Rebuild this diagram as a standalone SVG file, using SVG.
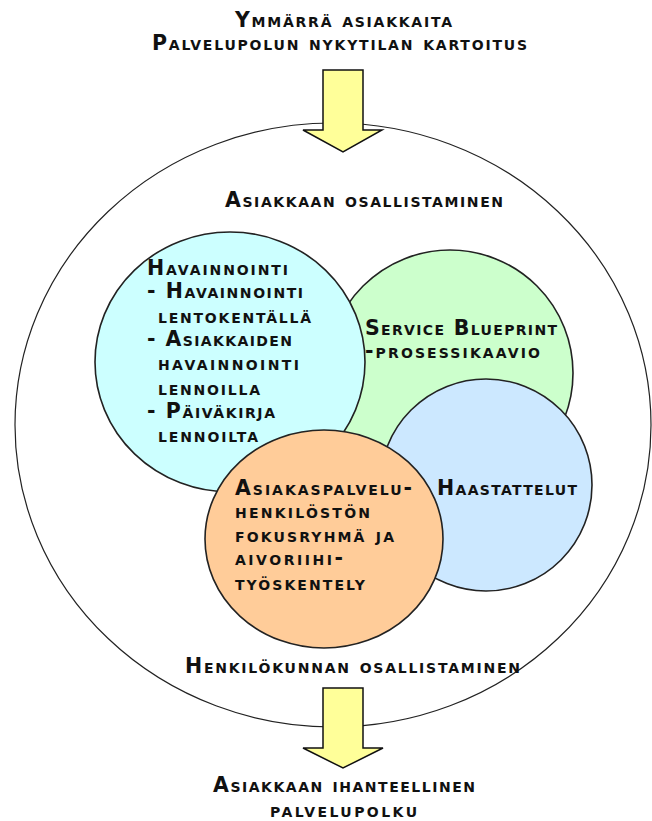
<svg xmlns="http://www.w3.org/2000/svg" width="652" height="821" viewBox="0 0 652 821">
<style>
  text { font-family: "DejaVu Sans", "Liberation Sans", sans-serif; font-weight: bold; font-size: 20.5px; font-variant: small-caps; fill: #111; }
  .bub { stroke: #222; stroke-width: 1.6; }
  .arrow { fill: #FFFF99; stroke: #111; stroke-width: 1.5; stroke-linejoin: miter; }
</style>
<rect width="652" height="821" fill="#fff"/>
<g id="outer">
  <ellipse cx="333" cy="425" rx="318" ry="302" fill="none" stroke="#222" stroke-width="1.2"/>
  <text x="225" y="207" textLength="278" lengthAdjust="spacing">Asiakkaan osallistaminen</text>
  <text x="185" y="673" textLength="335" lengthAdjust="spacing">Henkilökunnan osallistaminen</text>
</g>
<g id="top-label">
  <text x="235" y="27" textLength="217" lengthAdjust="spacing">Ymmärrä asiakkaita</text>
  <text x="152" y="50" textLength="375" lengthAdjust="spacing">Palvelupolun nykytilan kartoitus</text>
</g>
<g id="bottom-label">
  <text x="213" y="792" textLength="262" lengthAdjust="spacing">Asiakkaan ihanteellinen</text>
  <text x="270" y="817" textLength="147" lengthAdjust="spacing">palvelupolku</text>
</g>
<g id="service-blueprint">
  <circle class="bub" cx="450" cy="373" r="123" fill="#CCFFCC"/>
  <text x="365" y="335" textLength="192" lengthAdjust="spacing">Service Blueprint</text>
  <text x="365" y="358" textLength="175" lengthAdjust="spacing">-prosessikaavio</text>
</g>
<g id="havainnointi">
  <ellipse class="bub" cx="230" cy="362" rx="135" ry="130" fill="#CCFFFF"/>
  <text x="147" y="275" textLength="141" lengthAdjust="spacing">Havainnointi</text>
  <text x="147" y="298" textLength="156" lengthAdjust="spacing">- Havainnointi</text>
  <text x="158" y="323" textLength="153" lengthAdjust="spacing">lentokentällä</text>
  <text x="147" y="346" textLength="145" lengthAdjust="spacing">- Asiakkaiden</text>
  <text x="158" y="370" textLength="141" lengthAdjust="spacing">havainnointi</text>
  <text x="158" y="395" textLength="102" lengthAdjust="spacing">lennoilla</text>
  <text x="147" y="418" textLength="128" lengthAdjust="spacing">- Päiväkirja</text>
  <text x="158" y="442" textLength="100" lengthAdjust="spacing">lennoilta</text>
</g>
<g id="haastattelut">
  <circle class="bub" cx="486" cy="485" r="106" fill="#CCE8FF"/>
  <text x="437" y="495" textLength="140" lengthAdjust="spacing">Haastattelut</text>
</g>
<g id="fokusryhma">
  <ellipse class="bub" cx="324" cy="539" rx="119" ry="109" fill="#FFCC99"/>
  <text x="235" y="495" textLength="177" lengthAdjust="spacing">Asiakaspalvelu-</text>
  <text x="235" y="518" textLength="135" lengthAdjust="spacing">henkilöstön</text>
  <text x="235" y="542" textLength="159" lengthAdjust="spacing">fokusryhmä ja</text>
  <text x="235" y="565" textLength="108" lengthAdjust="spacing">aivoriihi-</text>
  <text x="235" y="590" textLength="130" lengthAdjust="spacing">työskentely</text>
</g>
<g id="connectors">
  <polygon class="arrow" points="323,70 363,70 363,130 382,130 343,152 303,130 323,130"/>
  <polygon class="arrow" points="323,688 363,688 363,748 383,748 343,768 303,748 323,748"/>
</g>
</svg>
